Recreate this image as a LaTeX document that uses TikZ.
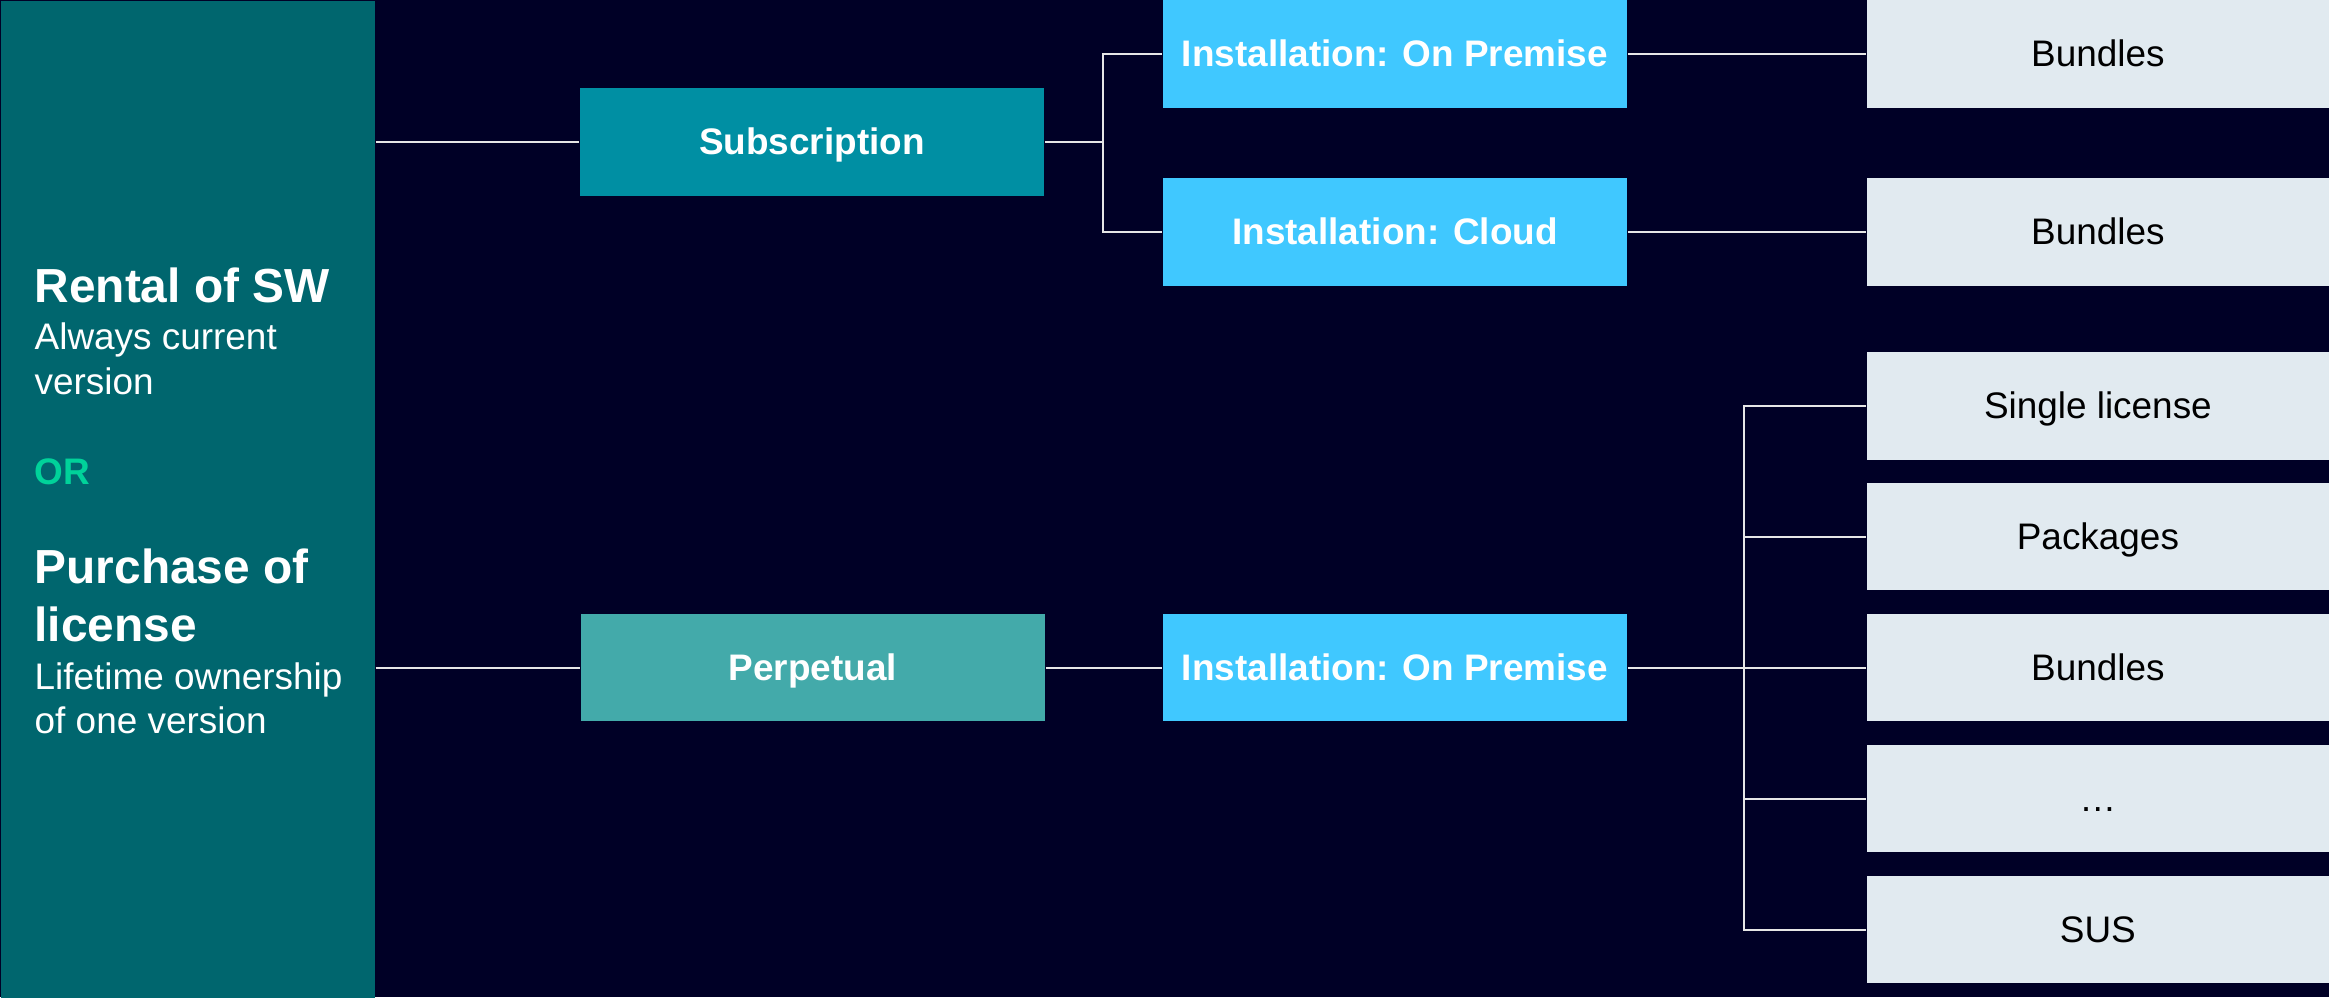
\documentclass[tikz,border=0pt]{standalone}
\usepackage{fontspec}
\setmainfont{Liberation Sans}
\usepackage{tikz}

\definecolor{bgnavy}{HTML}{000026}
\definecolor{panelteal}{HTML}{00666E}
\definecolor{subteal}{HTML}{008FA3}
\definecolor{perpteal}{HTML}{43AAAA}
\definecolor{skyblue}{HTML}{40C8FF}
\definecolor{leafgrey}{HTML}{E1EAF0}
\definecolor{orgreen}{HTML}{00D29A}
\definecolor{linkgrey}{HTML}{E6E6E6}

\begin{document}
\begin{tikzpicture}[x=0.01cm, y=-0.01cm,
  box/.style={rectangle, inner sep=0pt, minimum width=4.64cm, minimum height=1.07cm,
    text height=0.72em, text depth=0pt,
    text=white, font=\fontsize{10.5}{12}\selectfont\bfseries},
  leaf/.style={box, fill=leafgrey, text=black, minimum width=4.62cm,
    font=\fontsize{10.5}{12}\selectfont},
  headline/.style={anchor=base west, inner sep=0pt, text=white, font=\fontsize{13.6}{16}\selectfont\bfseries},
  subline/.style={anchor=base west, inner sep=0pt, text=white, font=\fontsize{10.5}{12}\selectfont},
  link/.style={draw=linkgrey, line width=0.7pt}]

\fill[bgnavy] (0,0) rectangle (2329,997);
\node[fill=panelteal, anchor=north west, inner sep=0pt, minimum width=3.74cm, minimum height=9.97cm] (panel) at (0,0) {};

% left panel text
\node[headline] (rental) at (34,303) {Rental of SW};
\node[subline] (always) at (34,350) {Always current};
\node[subline] (version) at (34,395) {version};
\node[headline, text=orgreen, font=\fontsize{10.5}{12}\selectfont\bfseries] (or) at (34,485) {OR};
\node[headline] (purchase) at (34,584) {Purchase of};
\node[headline] (license) at (34,642) {license};
\node[subline] (lifetime) at (34,690) {Lifetime ownership};
\node[subline] (onever) at (34,734) {of one version};

% middle column
\node[box, fill=subteal] (sub) at (812,142) {Subscription};
\node[box, fill=perpteal] (perp) at (813,668) {Perpetual};

\node[box, fill=skyblue] (premA) at (1395,54) {Installation: On Premise};
\node[box, fill=skyblue] (cloud) at (1395,232) {Installation: Cloud};
\node[box, fill=skyblue] (premB) at (1395,668) {Installation: On Premise};

% right column
\node[leaf] (bundA) at (2098,54) {Bundles};
\node[leaf] (bundB) at (2098,232) {Bundles};
\node[leaf] (single) at (2098,406) {Single license};
\node[leaf] (packages) at (2098,537) {Packages};
\node[leaf] (bundC) at (2098,668) {Bundles};
\node[leaf] (more) at (2098,799) {\dots};
\node[leaf] (sus) at (2098,930) {SUS};

% connectors
\coordinate (subfork) at (1103,142);
\coordinate (permfork) at (1744,668);
\draw[link] (panel.east |- sub.west) -- (sub.west);
\draw[link] (panel.east |- perp.west) -- (perp.west);
\draw[link] (sub.east) -- (subfork) |- (premA.west);
\draw[link] (subfork) |- (cloud.west);
\draw[link] (perp) -- (premB);
\draw[link] (premA) -- (bundA);
\draw[link] (cloud) -- (bundB);
\draw[link] (premB) -- (bundC);
\draw[link] (permfork) |- (single.west);
\draw[link] (permfork) |- (packages.west);
\draw[link] (permfork) |- (more.west);
\draw[link] (permfork) |- (sus.west);
\end{tikzpicture}
\end{document}
